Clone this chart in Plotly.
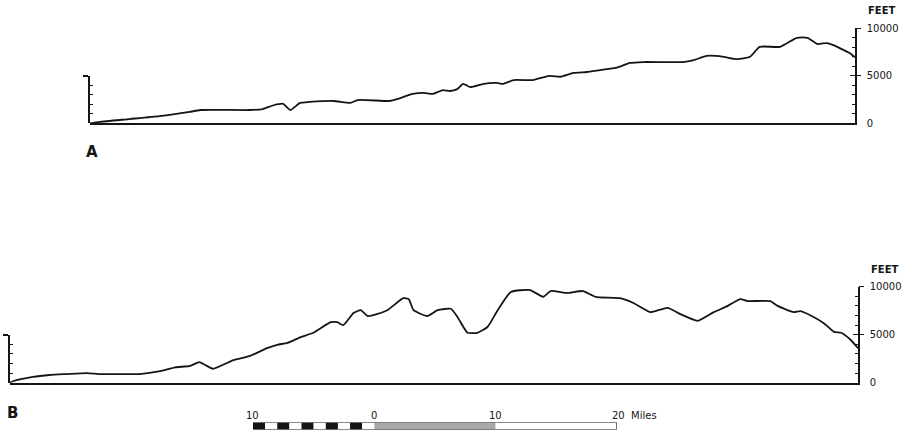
import plotly.graph_objects as go

# Section A: distance along the line of section (miles) and elevation (feet)
dist_a = [0, 0.8, 3.3, 5.8, 8.3, 9.2, 13.3, 14.4, 15.3, 16.1, 16.7, 17.5, 18.3, 20.3,
          21.7, 22.3, 25.0, 25.6, 26.9, 27.8, 28.6, 29.4, 30.0, 30.6, 31.1, 31.7, 32.8,
          33.9, 34.4, 35.3, 36.9, 38.3, 39.2, 40.3, 41.4, 42.5, 43.9, 45.0, 46.1, 49.4,
          50.3, 51.4, 52.8, 53.9, 55.0, 55.8, 57.5, 58.9, 59.8, 60.6, 61.4, 61.9, 63.3, 63.75]
elev_a = [0, 150, 450, 750, 1200, 1400, 1400, 1500, 1900, 2050, 1400, 2150, 2250, 2350,
          2150, 2450, 2350, 2550, 3100, 3200, 3100, 3500, 3400, 3600, 4150, 3800, 4150,
          4250, 4150, 4550, 4550, 5000, 4900, 5300, 5400, 5600, 5850, 6350, 6450, 6450,
          6650, 7100, 7000, 6750, 7000, 8050, 8050, 9000, 9000, 8350, 8450, 8250, 7400, 6950]

# Section B
dist_b = [0, 0.25, 1.9, 3.3, 4.75, 6.4, 7.5, 9.2, 10.8, 12.5, 13.75, 15.0, 15.75, 16.25,
          16.9, 18.6, 20.0, 21.4, 22.25, 23.1, 24.2, 25.25, 26.7, 27.25, 27.75, 28.6, 29.2,
          29.75, 30.25, 31.4, 32.75, 33.2, 33.6, 34.75, 35.6, 36.7, 37.25, 37.75, 38.1,
          38.9, 39.75, 40.6, 41.7, 43.3, 44.4, 45.0, 46.4, 47.7, 48.75, 50.8, 51.9, 53.3,
          54.75, 55.8, 57.25, 58.6, 59.75, 60.8, 61.4, 63.3, 63.9, 65.25, 65.8, 66.9, 67.75,
          68.6, 69.2, 70.0, 70.6]
elev_b = [0, 150, 600, 800, 900, 1000, 900, 900, 900, 1200, 1600, 1750, 2150, 1850,
          1450, 2350, 2800, 3600, 3950, 4150, 4750, 5200, 6300, 6300, 6000, 7250, 7550,
          6950, 7050, 7550, 8800, 8700, 7550, 6950, 7550, 7700, 6850, 5800, 5200,
          5200, 5800, 7550, 9450, 9650, 8950, 9550, 9350, 9550, 8950, 8800, 8300, 7350,
          7800, 7150, 6450, 7350, 8000, 8700, 8500, 8500, 8000, 7350, 7450, 6850, 6200,
          5300, 5200, 4450, 3600]

# Elevation scale (feet)
elev_labels = [0, 5000, 10000]
elev_step = 1000
left_scale_top = 5000

# Bar scale (miles)
scale_marks = [-10, 0, 10, 20]
scale_text = ["10", "0", "10", "20  Miles"]

W, H = 906, 432
INK = "#151515"
FONT = "DejaVu Sans"


def fx(px):
    return px / W


def fy(px):
    return 1 - px / H


fig = go.Figure()
layout = {}
counter = {"y": 0}


def new_y():
    counter["y"] += 1
    i = counter["y"]
    return ("y" if i == 1 else f"y{i}"), ("yaxis" if i == 1 else f"yaxis{i}")


def tick_axis(overlay, xr, side, rng, vals, ticks, ln):
    yr, yk = new_y()
    layout[yk] = dict(overlaying=overlay, anchor=xr, side=side, range=rng,
                      tickmode="array", tickvals=vals, ticks=ticks, ticklen=ln,
                      tickwidth=1.3, tickcolor=INK, showticklabels=False,
                      showline=False, showgrid=False, zeroline=False,
                      automargin=False, fixedrange=True)
    fig.add_trace(go.Scatter(x=[], y=[], xaxis=xr, yaxis=yr, showlegend=False,
                             hoverinfo="skip"))


def add_profile(xi, x0px, x1px, base_px, top_px, dist, elev, letter, letter_xy):
    xr = "x" if xi == 1 else f"x{xi}"
    xk = "xaxis" if xi == 1 else f"xaxis{xi}"
    ymax = elev_labels[-1]
    dom = [fy(base_px), fy(top_px)]

    yr, yk = new_y()
    layout[xk] = dict(domain=[fx(x0px), fx(x1px)], range=[0, max(dist)], anchor=yr,
                      showline=True, linecolor=INK, linewidth=1.5, ticks="",
                      showticklabels=False, showgrid=False, zeroline=False,
                      automargin=False, fixedrange=True)
    layout[yk] = dict(domain=dom, range=[0, ymax], anchor=xr, side="right",
                      showline=True, linecolor=INK, linewidth=1.5, ticks="",
                      tickmode="array", tickvals=elev_labels,
                      ticktext=[str(v) for v in elev_labels], ticklabelstandoff=8,
                      tickfont=dict(family=FONT, size=10, color=INK),
                      showgrid=False, zeroline=False, automargin=False,
                      fixedrange=True)
    fig.add_trace(go.Scatter(x=dist, y=elev, xaxis=xr, yaxis=yr, mode="lines",
                             line=dict(color=INK, width=1.8, shape="spline",
                                       smoothing=0.5),
                             showlegend=False, hoverinfo="skip"))

    majors = [v for v in elev_labels if v > 0]
    minors = [v for v in range(elev_step, ymax, elev_step) if v not in elev_labels]
    tick_axis(yr, xr, "right", [0, ymax], majors, "outside", 5)
    tick_axis(yr, xr, "right", [0, ymax], majors, "inside", 5)
    tick_axis(yr, xr, "right", [0, ymax], minors, "inside", 3)

    # short elevation bar at the start of the section
    lr, lk = new_y()
    half = dom[0] + (dom[1] - dom[0]) * left_scale_top / ymax
    layout[lk] = dict(domain=[dom[0], half], range=[0, left_scale_top], anchor=xr,
                      side="left", showline=True, linecolor=INK, linewidth=1.5,
                      tickmode="array", tickvals=[left_scale_top], ticks="outside",
                      ticklen=5, tickwidth=1.5, tickcolor=INK, showticklabels=False,
                      showgrid=False, zeroline=False, automargin=False,
                      fixedrange=True)
    fig.add_trace(go.Scatter(x=[], y=[], xaxis=xr, yaxis=lr, showlegend=False,
                             hoverinfo="skip"))
    tick_axis(lr, xr, "left", [0, left_scale_top], [left_scale_top], "inside", 5)
    tick_axis(lr, xr, "left", [0, left_scale_top],
              list(range(elev_step, left_scale_top, elev_step)), "inside", 3)

    fig.add_annotation(text="<b>FEET</b>", xref=f"{xr} domain", yref=f"{yr} domain",
                       x=1, y=1, xanchor="left", yanchor="bottom", xshift=11,
                       yshift=10, showarrow=False,
                       font=dict(family=FONT, size=10, color=INK))
    fig.add_annotation(text=f"<b>{letter}</b>", xref="paper", yref="paper",
                       x=fx(letter_xy[0]), y=fy(letter_xy[1]), xanchor="center",
                       yanchor="middle", showarrow=False,
                       font=dict(family=FONT, size=15, color=INK))


add_profile(1, 90, 855, 123.3, 28.3, dist_a, elev_a, "A", (92, 152))
add_profile(2, 10, 858, 382.7, 286.7, dist_b, elev_b, "B", (12, 413))

# bar scale
sr, sk = new_y()
layout["xaxis3"] = dict(domain=[fx(253), fx(617)], range=[scale_marks[0], scale_marks[-1]],
                        anchor=sr, visible=False, automargin=False, fixedrange=True)
layout[sk] = dict(domain=[fy(429.5), fy(422.5)], range=[0, 1], anchor="x3",
                  visible=False, automargin=False, fixedrange=True)
fig.add_trace(go.Scatter(x=[], y=[], xaxis="x3", yaxis=sr, showlegend=False,
                         hoverinfo="skip"))

for m in range(scale_marks[0], scale_marks[1]):
    fill = INK if (m - scale_marks[0]) % 2 == 0 else "white"
    fig.add_shape(type="rect", xref="x3", yref=sr, x0=m, x1=m + 1, y0=0, y1=1,
                  fillcolor=fill, line=dict(width=0))
fig.add_shape(type="rect", xref="x3", yref=sr, x0=scale_marks[1], x1=scale_marks[2],
              y0=0, y1=1, fillcolor="#a9a9a9", line=dict(width=0))
fig.add_shape(type="rect", xref="x3", yref=sr, x0=scale_marks[2], x1=scale_marks[3],
              y0=0, y1=1, fillcolor="white", line=dict(width=0))
fig.add_shape(type="rect", xref="x3", yref=sr, x0=scale_marks[0], x1=scale_marks[-1],
              y0=0, y1=1, fillcolor="rgba(0,0,0,0)", line=dict(color=INK, width=1.2))

for m, t in zip(scale_marks, scale_text):
    last = m == scale_marks[-1]
    fig.add_annotation(text=t, xref="x3", yref=sr, x=m, y=1,
                       xanchor="left" if last else "center", yanchor="bottom",
                       xshift=-7 if last else 0, yshift=0, showarrow=False,
                       font=dict(family=FONT, size=10, color=INK))

fig.update_layout(width=W, height=H, margin=dict(l=0, r=0, t=0, b=0, pad=0),
                  autosize=False, paper_bgcolor="white",
                  plot_bgcolor="rgba(0,0,0,0)", showlegend=False, **layout)

fig.write_html("out.html")
